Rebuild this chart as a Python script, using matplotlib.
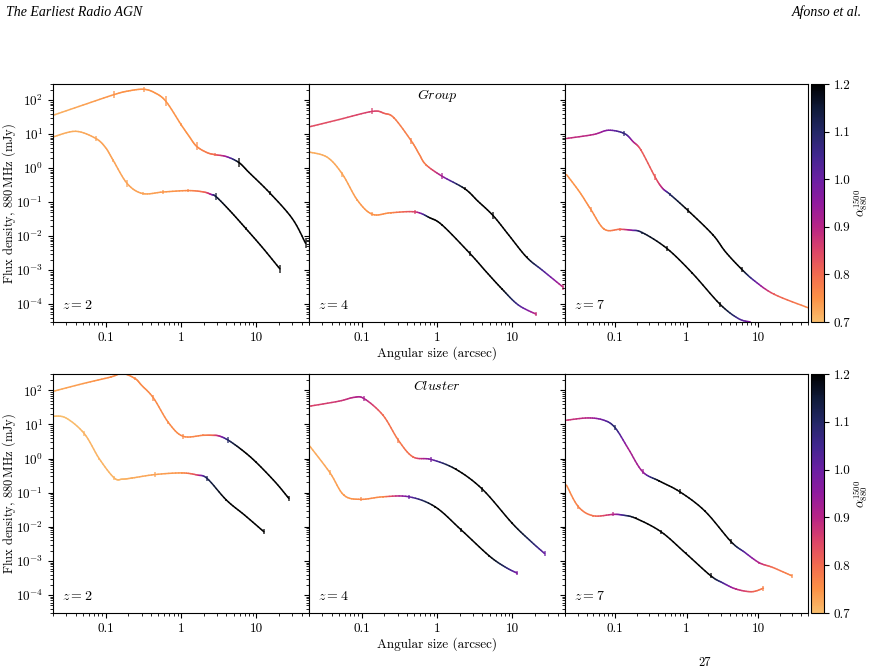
import numpy as np
import matplotlib
matplotlib.use('Agg')
import matplotlib.pyplot as plt
from matplotlib.collections import LineCollection
from matplotlib.colors import LinearSegmentedColormap, Normalize
from matplotlib.cm import ScalarMappable
from matplotlib.ticker import LogLocator, NullFormatter

plt.rcParams['font.family'] = 'serif'
plt.rcParams['font.serif'] = ['cmr10']
plt.rcParams['mathtext.fontset'] = 'cm'
plt.rcParams['axes.formatter.use_mathtext'] = True
plt.rcParams['axes.unicode_minus'] = False
plt.rcParams['font.size'] = 9.5

# angular size (arcsec), flux density (mJy), spectral index alpha, errorbar half size (dex, 0 = none)
# Group, z=2
g2_hi_x = [0.02, 0.05, 0.13, 0.2, 0.32, 0.45, 0.63, 1.0, 1.3, 1.61, 2.2, 2.82, 4.0, 5.87, 8.0, 15, 30, 45]
g2_hi_y = [36, 72, 147, 187, 210, 165, 93, 19.3, 8.3, 4.4, 2.9, 2.5, 2.2, 1.47, 0.75, 0.19, 0.033, 0.0062]
g2_hi_a = [0.71, 0.73, 0.75, 0.75, 0.75, 0.75, 0.75, 0.75, 0.75, 0.76, 0.78, 0.80, 0.93, 1.2, 1.2, 1.2, 1.2, 1.2]
g2_hi_e = [0, 0, 0.1, 0, 0.07, 0, 0.15, 0.05, 0, 0.12, 0, 0.05, 0, 0.13, 0, 0.06, 0, 0.15]
g2_lo_x = [0.02, 0.04, 0.074, 0.1, 0.126, 0.194, 0.31, 0.58, 1.25, 2.0, 2.5, 2.94, 4.5, 7.3, 12, 20.5]
g2_lo_y = [8.3, 12.2, 7.5, 4.0, 1.7, 0.35, 0.18, 0.2, 0.22, 0.2, 0.17, 0.144, 0.055, 0.0166, 0.0047, 0.0011]
g2_lo_a = [0.72, 0.72, 0.73, 0.73, 0.73, 0.73, 0.73, 0.74, 0.76, 0.8, 0.92, 1.15, 1.2, 1.2, 1.2, 1.2]
g2_lo_e = [0, 0, 0.08, 0, 0.04, 0.1, 0.04, 0.07, 0.04, 0, 0, 0.1, 0, 0.04, 0, 0.12]

# Group, z=4
g4_hi_x = [0.02, 0.05, 0.139, 0.2, 0.27, 0.457, 0.58, 0.71, 1.15, 2.33, 3.5, 5.58, 9, 15.5, 25, 47]
g4_hi_y = [16.4, 27, 47, 41, 30, 6.3, 2.6, 1.28, 0.594, 0.25, 0.107, 0.04, 0.0107, 0.0024, 0.001, 0.00032]
g4_hi_a = [0.84, 0.84, 0.86, 0.82, 0.78, 0.77, 0.77, 0.78, 0.92, 1.2, 1.2, 1.2, 1.2, 1.2, 1.05, 0.88]
g4_hi_e = [0, 0, 0.09, 0, 0.03, 0.08, 0, 0.03, 0.08, 0.04, 0, 0.1, 0, 0.03, 0, 0.08]
g4_lo_x = [0.02, 0.035, 0.0555, 0.0877, 0.139, 0.243, 0.51, 0.8, 1.18, 2.74, 4.5, 7.3, 12, 20.7]
g4_lo_y = [3.0, 2.1, 0.67, 0.115, 0.044, 0.049, 0.052, 0.035, 0.021, 0.0031, 0.0009, 0.00028, 9.5e-5, 5.1e-5]
g4_lo_a = [0.72, 0.72, 0.73, 0.74, 0.75, 0.76, 0.85, 1.2, 1.2, 1.2, 1.2, 1.2, 1.05, 0.88]
g4_lo_e = [0, 0, 0.07, 0.03, 0.06, 0.03, 0.06, 0, 0.03, 0.07, 0, 0.03, 0, 0.06]

# Group, z=7
g7_hi_x = [0.021, 0.05, 0.081, 0.135, 0.18, 0.231, 0.363, 0.46, 0.588, 1.04, 2.32, 3.5, 5.9, 9, 16.9, 50]
g7_hi_y = [7.5, 9.8, 13.1, 10.5, 6.0, 3.4, 0.556, 0.26, 0.17, 0.058, 0.0112, 0.0035, 0.00107, 0.00048, 0.000195, 7.9e-5]
g7_hi_a = [0.88, 0.9, 0.97, 1.08, 0.92, 0.82, 0.82, 0.9, 1.1, 1.2, 1.2, 1.2, 1.2, 1.02, 0.82, 0.76]
g7_hi_e = [0, 0, 0, 0.07, 0, 0.03, 0.08, 0, 0.04, 0.08, 0.03, 0, 0.07, 0, 0.03, 0]
g7_lo_x = [0.021, 0.032, 0.046, 0.071, 0.117, 0.17, 0.241, 0.53, 1.2, 2.94, 5.3, 7.8]
g7_lo_y = [0.65, 0.2, 0.061, 0.016, 0.016, 0.015, 0.0128, 0.0044, 0.00083, 1e-4, 3.8e-5, 3e-5]
g7_lo_a = [0.75, 0.75, 0.76, 0.76, 0.8, 0.95, 1.15, 1.2, 1.2, 1.2, 1.05, 0.95]
g7_lo_e = [0, 0, 0.07, 0.03, 0.05, 0, 0.03, 0.07, 0.03, 0.07, 0, 0]

# Cluster, z=2
c2_hi_x = [0.02, 0.05, 0.117, 0.167, 0.246, 0.3, 0.43, 0.68, 1.06, 1.95, 2.6, 3.2, 4.24, 6.5, 10, 18, 27]
c2_hi_y = [93, 157, 245, 310, 220, 140, 60, 11.4, 4.5, 4.8, 4.8, 4.6, 3.45, 1.76, 0.77, 0.2, 0.068]
c2_hi_a = [0.72, 0.74, 0.76, 0.76, 0.76, 0.76, 0.76, 0.76, 0.76, 0.77, 0.8, 0.9, 1.1, 1.2, 1.2, 1.2, 1.2]
c2_hi_e = [0, 0, 0.04, 0, 0.04, 0, 0.08, 0.03, 0.08, 0.03, 0, 0, 0.08, 0, 0.03, 0, 0.08]
c2_lo_x = [0.02, 0.0297, 0.052, 0.082, 0.13, 0.167, 0.226, 0.45, 1.02, 1.64, 2.23, 4.0, 7.0, 12.6]
c2_lo_y = [17.4, 15.5, 5.4, 1.0, 0.27, 0.25, 0.27, 0.34, 0.38, 0.33, 0.26, 0.061, 0.022, 0.0072]
c2_lo_a = [0.7, 0.7, 0.71, 0.71, 0.71, 0.71, 0.72, 0.73, 0.75, 0.85, 1.12, 1.2, 1.2, 1.2]
c2_lo_e = [0, 0, 0.07, 0.03, 0.07, 0, 0.03, 0.07, 0.04, 0, 0.08, 0.03, 0, 0.08]

# Cluster, z=4
c4_hi_x = [0.02, 0.05, 0.079, 0.108, 0.192, 0.307, 0.48, 0.84, 1.77, 4.0, 10, 18, 26.8]
c4_hi_y = [34, 48, 62, 57, 18.6, 3.45, 1.12, 0.94, 0.49, 0.127, 0.0126, 0.0036, 0.00166]
c4_hi_a = [0.85, 0.87, 0.9, 0.92, 0.8, 0.78, 0.8, 0.98, 1.2, 1.2, 1.2, 1.1, 1.0]
c4_hi_e = [0, 0, 0, 0.08, 0.03, 0.07, 0.03, 0.07, 0.03, 0.07, 0.03, 0, 0.07]
c4_lo_x = [0.02, 0.0378, 0.058, 0.097, 0.192, 0.425, 0.94, 2.1, 4.9, 8, 11.6]
c4_lo_y = [2.47, 0.39, 0.085, 0.064, 0.076, 0.076, 0.039, 0.0081, 0.00143, 0.00067, 0.00044]
c4_lo_a = [0.72, 0.73, 0.74, 0.76, 0.76, 1.0, 1.2, 1.2, 1.2, 1.1, 0.97]
c4_lo_e = [0, 0.07, 0.03, 0.06, 0.03, 0.06, 0.03, 0.07, 0.03, 0, 0.06]

# Cluster, z=7
c7_hi_x = [0.021, 0.042, 0.07, 0.1, 0.153, 0.244, 0.417, 0.81, 1.81, 4.19, 6.5, 10.4, 16, 29.6]
c7_hi_y = [13.3, 15.5, 13.3, 8.1, 1.97, 0.41, 0.22, 0.106, 0.029, 0.0037, 0.0018, 0.00089, 0.00065, 0.00037]
c7_hi_a = [0.87, 0.9, 1.0, 1.1, 0.92, 0.93, 1.2, 1.2, 1.2, 1.2, 1.02, 0.9, 0.8, 0.76]
c7_hi_e = [0, 0, 0, 0.08, 0, 0.07, 0.03, 0.07, 0.03, 0.07, 0, 0.03, 0, 0.06]
c7_lo_x = [0.021, 0.0307, 0.0497, 0.0946, 0.13, 0.195, 0.44, 0.975, 2.18, 3.2, 4.92, 8.2, 11.9]
c7_lo_y = [0.167, 0.039, 0.0211, 0.0232, 0.022, 0.0178, 0.0072, 0.00168, 0.00037, 0.00023, 0.000151, 0.000126, 0.00016]
c7_lo_a = [0.76, 0.77, 0.79, 0.9, 1.05, 1.2, 1.2, 1.2, 1.2, 1.05, 0.9, 0.82, 0.77]
c7_lo_e = [0, 0.06, 0.03, 0.06, 0, 0.03, 0.06, 0.03, 0.07, 0, 0.03, 0, 0.07]

redshifts = [2, 4, 7]
row_names = ['Group', 'Cluster']
cbar_ticks = [0.7, 0.8, 0.9, 1.0, 1.1, 1.2]

cmap = LinearSegmentedColormap.from_list('alpha_map', [
    '#f9bd6c', '#fc9146', '#f26a4f', '#dc4468', '#b72486', '#901a9e',
    '#6a1fa3', '#40268f', '#232766', '#0f1a38', '#000000'])
norm = Normalize(0.7, 1.2)


def catmull(p0, p1, p2, p3, t):
    return 0.5 * (2 * p1 + (p2 - p0) * t + (2 * p0 - 5 * p1 + 4 * p2 - p3) * t**2
                  + (3 * p1 - p0 - 3 * p2 + p3) * t**3)


def draw_track(ax, x, y, a, e):
    lx, ly, a = np.log10(x), np.log10(y), np.asarray(a)
    n = len(x)
    segs, cols = [], []
    t = np.linspace(0, 1, 9)
    # smooth line (Catmull-Rom in log-log) through the read points, coloured by alpha
    for i in range(n - 1):
        i0, i3 = max(i - 1, 0), min(i + 2, n - 1)
        px = 10 ** catmull(lx[i0], lx[i], lx[i+1], lx[i3], t)
        py = 10 ** catmull(ly[i0], ly[i], ly[i+1], ly[i3], t)
        pa = a[i] + t * (a[i+1] - a[i])
        for j in range(len(t) - 1):
            segs.append([(px[j], py[j]), (px[j+1], py[j+1])])
            cols.append(cmap(norm(0.5 * (pa[j] + pa[j+1]))))
    ax.add_collection(LineCollection(segs, colors=cols, linewidths=1.1, zorder=2,
                                     capstyle='round'))
    for xi, yi, ai, ei in zip(x, y, a, e):
        if ei > 0:
            ax.vlines(xi, yi * 10**-ei, yi * 10**ei, colors=[cmap(norm(ai))],
                      linewidths=1.2, alpha=0.75, zorder=3)


tracks = [
    [(g2_hi_x, g2_hi_y, g2_hi_a, g2_hi_e), (g2_lo_x, g2_lo_y, g2_lo_a, g2_lo_e)],
    [(g4_hi_x, g4_hi_y, g4_hi_a, g4_hi_e), (g4_lo_x, g4_lo_y, g4_lo_a, g4_lo_e)],
    [(g7_hi_x, g7_hi_y, g7_hi_a, g7_hi_e), (g7_lo_x, g7_lo_y, g7_lo_a, g7_lo_e)],
    [(c2_hi_x, c2_hi_y, c2_hi_a, c2_hi_e), (c2_lo_x, c2_lo_y, c2_lo_a, c2_lo_e)],
    [(c4_hi_x, c4_hi_y, c4_hi_a, c4_hi_e), (c4_lo_x, c4_lo_y, c4_lo_a, c4_lo_e)],
    [(c7_hi_x, c7_hi_y, c7_hi_a, c7_hi_e), (c7_lo_x, c7_lo_y, c7_lo_a, c7_lo_e)],
]

W, H = 870, 672
fig = plt.figure(figsize=(8.7, 6.72), dpi=100)

lefts = [53, 309, 565]
widths = [256, 256, 243]
row_top = [84, 374]
row_h = [238, 239]

for r in range(2):
    first = None
    for c in range(3):
        rect = [lefts[c] / W, (H - row_top[r] - row_h[r]) / H, widths[c] / W, row_h[r] / H]
        ax = fig.add_axes(rect, sharey=first)
        if first is None:
            first = ax
        for tr in tracks[3 * r + c]:
            draw_track(ax, *tr)
        ax.set_xscale('log')
        ax.set_yscale('log')
        ax.set_xlim(0.02, 50)
        ax.set_ylim(3e-5, 300)
        ax.set_xticks([0.1, 1, 10], labels=['0.1', '1', '10'])
        ax.xaxis.set_minor_locator(LogLocator(base=10, subs=np.arange(2, 10), numticks=20))
        ax.xaxis.set_minor_formatter(NullFormatter())
        ax.yaxis.set_major_locator(LogLocator(base=10, numticks=20))
        ax.yaxis.set_minor_locator(LogLocator(base=10, subs=np.arange(2, 10), numticks=20))
        ax.yaxis.set_minor_formatter(NullFormatter())
        if c == 0:
            ax.set_ylabel(r'Flux density, $880\,$MHz (mJy)', fontsize=9)
            ax.yaxis.set_label_coords(-0.135, 0.5)
        else:
            ax.tick_params(labelleft=False)
        if c == 1:
            ax.set_xlabel('Angular size (arcsec)', labelpad=2)
            ax.text(0.5, 0.95, r'$\mathit{' + row_names[r] + '}$', transform=ax.transAxes,
                    ha='center', va='center', fontsize=10)
        ax.text(0.035, 0.07, r'$z = %d$' % redshifts[c], transform=ax.transAxes,
                ha='left', va='center', fontsize=10)

    cax = fig.add_axes([811 / W, (H - row_top[r] - row_h[r]) / H, 13 / W, row_h[r] / H])
    cb = fig.colorbar(ScalarMappable(norm=norm, cmap=cmap), cax=cax)
    cb.set_ticks(cbar_ticks, labels=['%.1f' % v for v in cbar_ticks])
    cb.set_label(r'$\alpha_{880}^{1500}$', fontsize=9)
    cax.yaxis.set_label_coords(3.05, 0.5)

fig.text(6 / W, 1 - 12 / H, 'The Earliest Radio AGN', ha='left', va='center',
         family='Liberation Serif', style='italic', fontsize=10)
fig.text(862 / W, 1 - 12 / H, 'Afonso et al.', ha='right', va='center',
         family='Liberation Serif', style='italic', fontsize=10)
fig.text(705 / W, 1 - 663 / H, '27', ha='center', va='center', fontsize=9)

fig.savefig('out.png', dpi=100)
